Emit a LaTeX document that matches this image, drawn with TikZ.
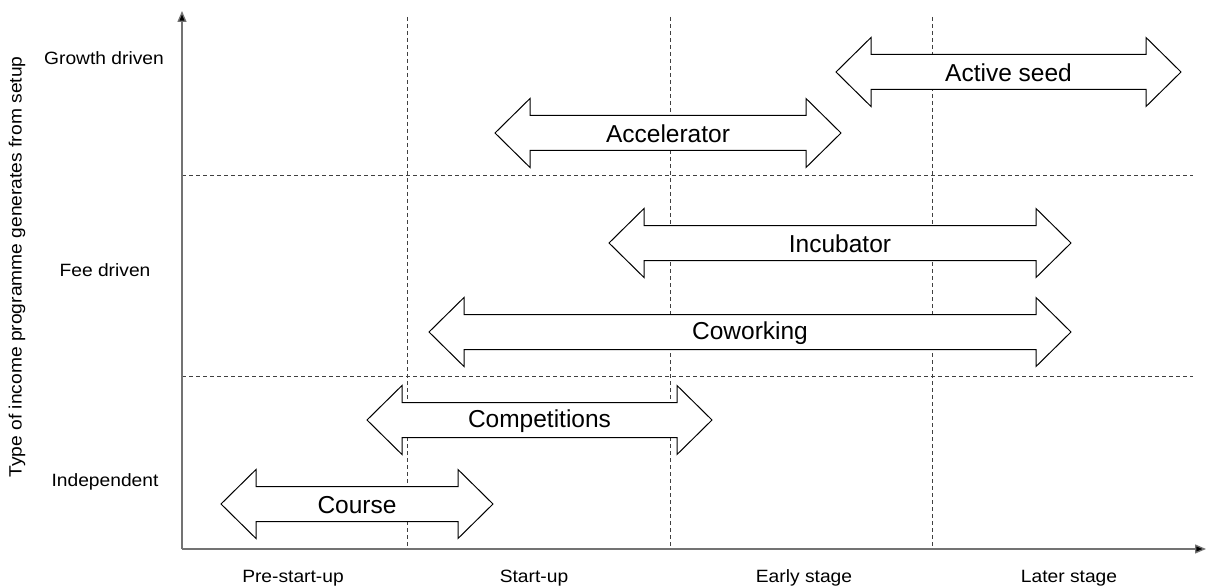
\documentclass[tikz,border=0pt]{standalone}
\usepackage{fontspec}
\setmainfont{Liberation Sans}
\usetikzlibrary{arrows.meta}
\newcommand{\lbl}[1]{\scalebox{1.08}[1]{#1}}
% double-headed block arrow: name, left tip x, right tip x, centre y, text
\newcommand{\blockarrow}[5]{%
  \draw[blockstyle] (#2,#4) -- (#2+35,#4-34.5) -- (#2+35,#4-17.5) -- (#3-35,#4-17.5)
    -- (#3-35,#4-34.5) -- (#3,#4) -- (#3-35,#4+34.5) -- (#3-35,#4+17.5)
    -- (#2+35,#4+17.5) -- (#2+35,#4+34.5) -- cycle;
  \node[bigtext] (#1) at ({(#2+#3)/2},#4+1) {#5};}
\begin{document}
\begin{tikzpicture}[x=1pt,y=-1pt,
  grid/.style={draw=black!75,line width=0.8pt,dash pattern=on 4pt off 3pt},
  axis/.style={draw=black!55,line width=1.3pt,-{Triangle[length=11pt,width=9pt,fill=black]}},
  blockstyle/.style={draw=black,fill=white,line width=1pt,line join=miter},
  bigtext/.style={font=\fontsize{24.5}{28}\selectfont,inner sep=0pt},
  smalltext/.style={font=\fontsize{17.8}{20}\selectfont,inner sep=0pt}]
\useasboundingbox (0,0) rectangle (1207,588);

% grid of stages and income types
\coordinate (o) at (182,549);
\draw[grid] (407,17) -- (407,549);
\draw[grid] (670,17) -- (670,549);
\draw[grid] (932,17) -- (932,549);
\draw[grid] (182,175) -- (1193,175);
\draw[grid] (182,376) -- (1193,376);

% axes
\coordinate (ytip) at (182,11);
\coordinate (xtip) at (1206,549);
\draw[axis] (o) -- (ytip);
\draw[axis] (o) -- (xtip);

% programme types
\blockarrow{seed}{836}{1181}{72}{Active seed}
\blockarrow{accel}{495}{841}{133}{Accelerator}
\blockarrow{incub}{609}{1071}{243}{Incubator}
\blockarrow{cowork}{429}{1071}{332}{Coworking}
\blockarrow{compet}{367}{712}{420}{Competitions}
\blockarrow{course}{221}{493}{504}{Course}

% income type labels
\node[smalltext] (growth) at (104,58) {\lbl{Growth driven}};
\node[smalltext] (fee) at (105,270) {\lbl{Fee driven}};
\node[smalltext] (indep) at (105,482) {\lbl{Independent}};
\node[smalltext,rotate=90] (ylabel) at (17,267) {\lbl{Type of income programme generates from setup}};

% stage labels
\node[smalltext] (pre) at (293,578) {\lbl{Pre-start-up}};
\node[smalltext] (start) at (534,578) {\lbl{Start-up}};
\node[smalltext] (early) at (804,578) {\lbl{Early stage}};
\node[smalltext] (later) at (1069,578) {\lbl{Later stage}};
\end{tikzpicture}
\end{document}
